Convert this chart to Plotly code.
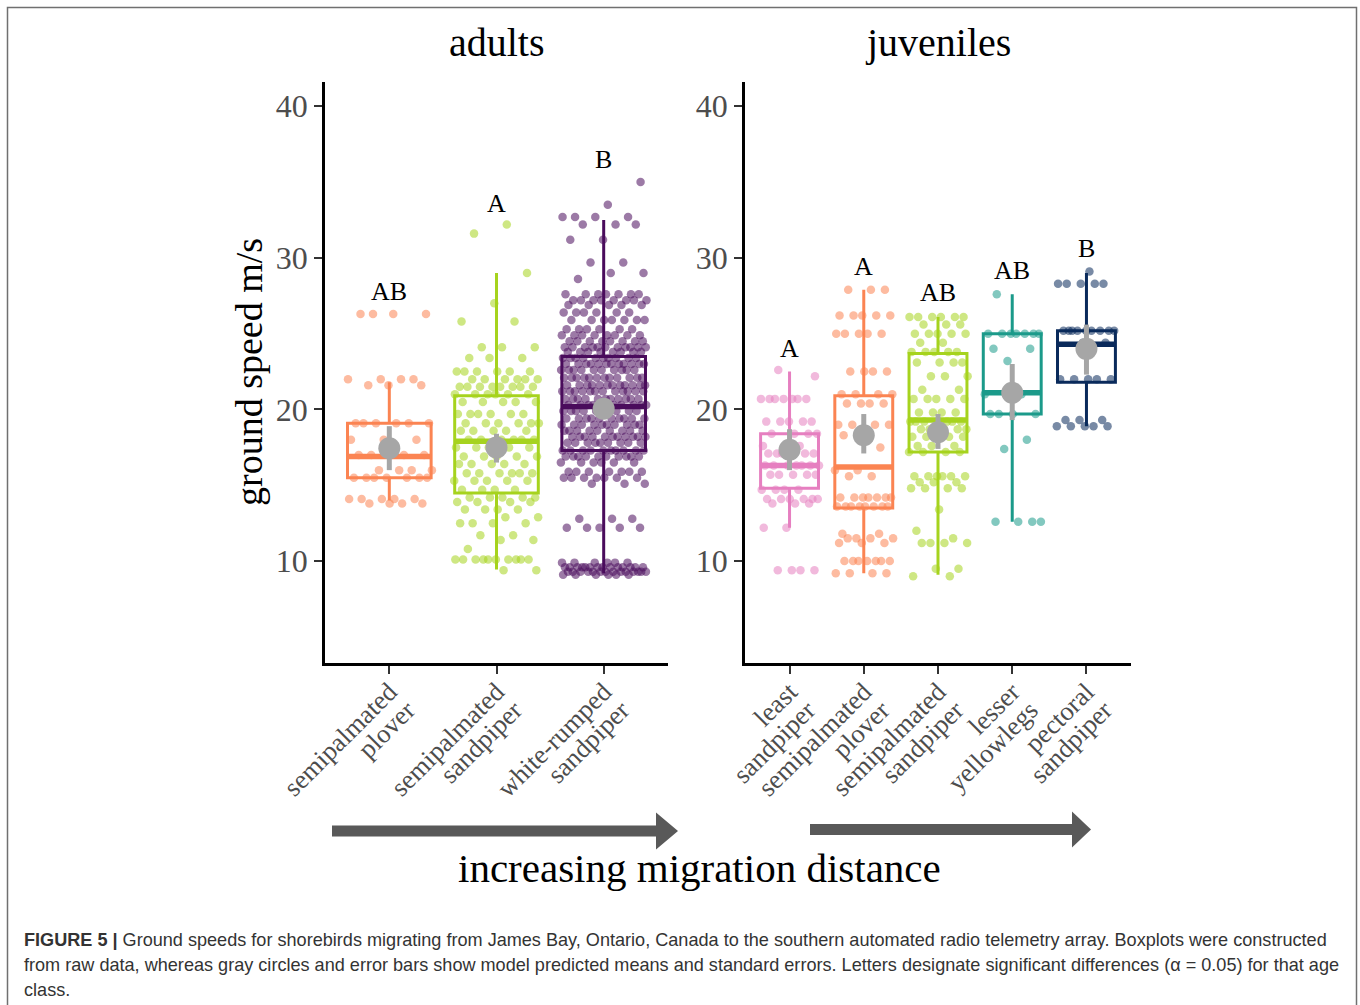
import plotly.graph_objects as go
import numpy as np

W, H = 1360, 1005

# ---------------- data ----------------
adult_line1 = ["semipalmated", "semipalmated", "white-rumped"]
adult_line2 = ["plover", "sandpiper", "sandpiper"]
juv_line1 = ["least", "semipalmated", "semipalmated", "lesser", "pectoral"]
juv_line2 = ["sandpiper", "plover", "sandpiper", "yellowlegs", "sandpiper"]

adult_colors = ["#FB8452", "#A6D31E", "#4A0C5C"]
juv_colors = ["#E67FC0", "#FB8452", "#A6D31E", "#1B9A8A", "#0A2A5B"]

# raw speeds as frequency tables (value, count)
ad_plover_vals = [26.3, 22.0, 21.6, 19.1, 18.0, 17.0, 16.0, 15.5, 14.1, 13.8]
ad_plover_cnts = [4, 4, 3, 6, 3, 5, 4, 7, 5, 4]

ad_sesa_vals = [32.2, 31.6, 29.0, 27.0, 25.8, 24.1, 23.4, 22.5, 22.0, 21.5, 21.0, 20.5, 19.7,
                19.1, 18.6, 18.0, 17.5, 16.9, 16.4, 15.8, 15.3, 14.7, 14.2, 13.9, 13.4, 12.9,
                12.5, 11.7, 11.4, 10.8, 10.1, 9.4]
ad_sesa_cnts = [1, 1, 1, 1, 2, 3, 3, 6, 6, 8, 6, 5, 6, 6, 5, 6, 5, 5, 5, 6, 5, 4, 5, 4, 4, 2,
                4, 2, 2, 1, 10, 2]

ad_wrsa_vals = [35.0, 33.5, 32.7, 32.2, 31.2, 29.7, 29.0, 28.6, 27.6, 27.2, 26.9, 26.4, 25.9,
                25.3, 24.9, 24.5, 24.1, 23.8, 23.4, 23.0, 22.6, 22.1, 21.6, 21.2, 20.7, 20.3,
                19.9, 19.4, 19.0, 18.6, 18.2, 17.8, 17.3, 16.9, 16.5, 15.9, 15.5, 15.1, 12.8,
                12.2, 9.9, 9.6, 9.3, 9.1]
ad_wrsa_cnts = [1, 1, 4, 3, 2, 2, 2, 1, 7, 8, 5, 6, 7, 6, 8, 8, 11, 8, 10, 12, 10, 12, 12, 12,
                11, 10, 10, 10, 10, 9, 11, 9, 10, 10, 6, 7, 7, 3, 3, 5, 6, 14, 14, 6]

jv_lesa_vals = [22.6, 22.2, 20.7, 19.2, 18.4, 17.6, 17.1, 16.3, 15.7, 14.7, 14.1, 13.8, 12.2, 9.4]
jv_lesa_cnts = [1, 1, 7, 5, 4, 3, 6, 7, 5, 4, 6, 3, 2, 4]

jv_sepl_vals = [27.9, 26.2, 25.0, 22.5, 21.0, 20.4, 19.0, 18.3, 17.5, 16.0, 15.6, 14.2, 13.6,
                11.8, 11.5, 11.2, 10.0, 9.2]
jv_sepl_cnts = [3, 5, 5, 4, 4, 4, 4, 2, 1, 2, 2, 7, 8, 2, 4, 3, 7, 4]

jv_sesa_vals = [26.1, 25.6, 25.0, 24.4, 23.8, 23.1, 22.2, 21.3, 20.7, 19.8, 19.2, 18.7, 18.2,
                17.6, 17.2, 15.6, 15.2, 14.8, 13.4, 12.0, 11.5, 11.2, 9.5, 9.0]
jv_sesa_cnts = [6, 3, 5, 2, 5, 4, 3, 2, 5, 4, 7, 5, 6, 3, 4, 6, 3, 4, 1, 1, 1, 4, 2, 2]

jv_leye_vals = [27.6, 25.0, 24.0, 23.2, 21.0, 19.7, 18.0, 17.4, 12.6]
jv_leye_cnts = [1, 7, 2, 1, 2, 4, 1, 1, 4]

jv_pesa_vals = [29.1, 28.3, 25.2, 24.4, 22.0, 19.3, 18.9]
jv_pesa_cnts = [1, 5, 9, 2, 5, 3, 5]

# boxplot statistics
ad_q1 = [15.5, 14.5, 17.3]
ad_med = [16.9, 17.9, 20.2]
ad_q3 = [19.1, 20.9, 23.5]
ad_lo = [14.0, 9.45, 9.2]
ad_hi = [21.8, 29.0, 32.5]

jv_q1 = [14.8, 13.5, 17.2, 19.7, 21.8]
jv_med = [16.3, 16.2, 19.3, 21.1, 24.3]
jv_q3 = [18.4, 20.9, 23.7, 25.0, 25.2]
jv_lo = [12.2, 9.2, 9.1, 12.6, 18.9]
jv_hi = [22.5, 27.9, 26.1, 27.6, 29.0]

# model predicted means and standard errors
ad_mean = [17.45, 17.5, 20.05]
ad_se_lo = [16.0, 16.5, 19.5]
ad_se_hi = [18.9, 18.4, 20.6]

jv_mean = [17.35, 18.3, 18.5, 21.1, 24.0]
jv_se_lo = [16.0, 17.1, 17.4, 19.3, 22.3]
jv_se_hi = [18.7, 19.7, 19.7, 23.0, 25.6]

# significance letters
ad_letters = ["AB", "A", "B"]
ad_letter_y = [27.8, 33.6, 36.5]
jv_letters = ["A", "A", "AB", "AB", "B"]
jv_letter_y = [24.0, 29.4, 27.7, 29.2, 30.65]

y_ticks = [10, 20, 30, 40]

# ---------------- figure ----------------
SERIF = "Liberation Serif, Times New Roman, serif"
SANS = "Liberation Sans, Arial, sans-serif"
GRAY_TXT = "#4D4D4D"
MEAN_GRAY = "#A6A6A6"
BOX_W = 0.78
JIT = 0.4


def px(x):
    return x / W


def py(y):
    return 1 - y / H


fig = go.Figure()


def add_panel(xa, ya, xa_lab2, val_tables, colors, q1, med, q3, lo, hi, mean, se_lo, se_hi):
    n = len(colors)
    cats = list(range(1, n + 1))
    # jittered raw points
    for i, (vals, cnts) in enumerate(val_tables):
        ys = np.repeat(np.array(vals, float), cnts)
        k = np.arange(len(ys))
        offs = ((k * 0.6180339887 + 0.31 * (i + 1)) % 1.0 - 0.5) * 2 * JIT
        fig.add_trace(go.Scatter(
            x=cats[i] + offs, y=ys, mode="markers", xaxis=xa, yaxis=ya,
            marker=dict(color=colors[i], size=8.5, opacity=0.55, line=dict(width=0)),
            hoverinfo="skip", showlegend=False))
    # boxes
    for i in range(n):
        fig.add_trace(go.Box(
            x=[cats[i]], q1=[q1[i]], median=[med[i]], q3=[q3[i]],
            lowerfence=[lo[i]], upperfence=[hi[i]], width=BOX_W,
            xaxis=xa, yaxis=ya, boxpoints=False, whiskerwidth=0,
            line=dict(color=colors[i], width=3), fillcolor="rgba(0,0,0,0)",
            showlegend=False, hoverinfo="skip"))
        fig.add_trace(go.Scatter(
            x=[cats[i] - BOX_W / 2, cats[i] + BOX_W / 2], y=[med[i], med[i]],
            mode="lines", xaxis=xa, yaxis=ya,
            line=dict(color=colors[i], width=5.5), showlegend=False, hoverinfo="skip"))
    # means +- SE
    m = np.array(mean)
    fig.add_trace(go.Scatter(
        x=cats, y=m, mode="markers", xaxis=xa, yaxis=ya,
        marker=dict(color=MEAN_GRAY, size=22, line=dict(width=0)),
        error_y=dict(type="data", symmetric=False, array=np.array(se_hi) - m,
                     arrayminus=m - np.array(se_lo), thickness=5, width=0, color=MEAN_GRAY),
        showlegend=False, hoverinfo="skip"))
    # invisible trace so the second-line label axis gets drawn
    fig.add_trace(go.Scatter(
        x=cats, y=m, mode="markers", xaxis=xa_lab2, yaxis=ya,
        marker=dict(opacity=0, size=1), showlegend=False, hoverinfo="skip"))


add_panel("x", "y", "x3",
          [(ad_plover_vals, ad_plover_cnts), (ad_sesa_vals, ad_sesa_cnts), (ad_wrsa_vals, ad_wrsa_cnts)],
          adult_colors, ad_q1, ad_med, ad_q3, ad_lo, ad_hi, ad_mean, ad_se_lo, ad_se_hi)
add_panel("x2", "y2", "x4",
          [(jv_lesa_vals, jv_lesa_cnts), (jv_sepl_vals, jv_sepl_cnts), (jv_sesa_vals, jv_sesa_cnts),
           (jv_leye_vals, jv_leye_cnts), (jv_pesa_vals, jv_pesa_cnts)],
          juv_colors, jv_q1, jv_med, jv_q3, jv_lo, jv_hi, jv_mean, jv_se_lo, jv_se_hi)

ann = []
for i, (t, yv) in enumerate(zip(ad_letters, ad_letter_y)):
    ann.append(dict(x=i + 1, y=yv, xref="x", yref="y", text=t, showarrow=False,
                    font=dict(family=SERIF, size=26, color="black"), xanchor="center", yanchor="middle"))
for i, (t, yv) in enumerate(zip(jv_letters, jv_letter_y)):
    ann.append(dict(x=i + 1, y=yv, xref="x2", yref="y2", text=t, showarrow=False,
                    font=dict(family=SERIF, size=26, color="black"), xanchor="center", yanchor="middle"))

# panel titles
ann.append(dict(x=px(497), y=py(43), xref="paper", yref="paper", text="adults", showarrow=False,
                font=dict(family=SERIF, size=40, color="black"), xanchor="center", yanchor="middle"))
ann.append(dict(x=px(938), y=py(43), xref="paper", yref="paper", text="juveniles", showarrow=False,
                font=dict(family=SERIF, size=40, color="black"), xanchor="center", yanchor="middle"))
# y title
ann.append(dict(x=px(249), y=py(372), xref="paper", yref="paper", text="ground speed m/s",
                showarrow=False, textangle=-90,
                font=dict(family=SERIF, size=38, color="black"), xanchor="center", yanchor="middle"))
# bottom label
ann.append(dict(x=px(700), y=py(868), xref="paper", yref="paper", text="increasing migration distance",
                showarrow=False, font=dict(family=SERIF, size=41, color="black"),
                xanchor="center", yanchor="middle"))
# caption
cap_lines = [
    "<b>FIGURE 5 |</b> Ground speeds for shorebirds migrating from James Bay, Ontario, Canada to the southern automated radio telemetry array. Boxplots were constructed",
    "from raw data, whereas gray circles and error bars show model predicted means and standard errors. Letters designate significant differences (α = 0.05) for that age",
    "class.",
]
for j, line in enumerate(cap_lines):
    ann.append(dict(x=px(22), y=py(940 + 25 * j), xref="paper", yref="paper", text=line,
                    showarrow=False, font=dict(family=SANS, size=18.1, color="#333333"),
                    xanchor="left", yanchor="middle"))

ARW = "#595959"
shapes = [
    # frame
    dict(type="rect", xref="paper", yref="paper", x0=px(7.5), x1=px(1356.5), y0=py(1012), y1=py(7.5),
         line=dict(color="#707070", width=1.5), fillcolor="rgba(0,0,0,0)", layer="below"),
    # left arrow
    dict(type="rect", xref="paper", yref="paper", x0=px(332), x1=px(659), y0=py(836.5), y1=py(825.5),
         line=dict(width=0), fillcolor=ARW),
    dict(type="path", xref="paper", yref="paper",
         path=f"M {px(656)},{py(812.5)} L {px(678)},{py(831)} L {px(656)},{py(849.5)} Z",
         line=dict(width=0), fillcolor=ARW),
    # right arrow
    dict(type="rect", xref="paper", yref="paper", x0=px(810), x1=px(1074), y0=py(835), y1=py(824),
         line=dict(width=0), fillcolor=ARW),
    dict(type="path", xref="paper", yref="paper",
         path=f"M {px(1072)},{py(811.5)} L {px(1091)},{py(829.5)} L {px(1072)},{py(847.5)} Z",
         line=dict(width=0), fillcolor=ARW),
]

yrange = [3.28, 41.6]
ax_common = dict(showline=True, linecolor="black", linewidth=2.5, ticks="outside", ticklen=8,
                 tickwidth=1.5, tickcolor="#333333", showgrid=False, zeroline=False, automargin=False)
yax = dict(ax_common, range=yrange, tickmode="array", tickvals=y_ticks,
           tickfont=dict(family=SERIF, size=32, color=GRAY_TXT), domain=[py(663), py(82)])

XFONT = dict(family=SERIF, size=26.5, color=GRAY_TXT)
L1_STANDOFF, L1_SHIFT = -8, 0
L2_DX, L2_DY = 18, 20  # offset of the second label line relative to the first


def xlab_axis(domain, rng, n, texts, anchor, main, standoff, shift, overlay=None):
    d = dict(domain=domain, range=rng, tickmode="array", tickvals=list(range(1, n + 1)),
             ticktext=texts, tickangle=-45, tickfont=XFONT, anchor=anchor,
             ticklabelstandoff=standoff, ticklabelshift=shift, automargin=False)
    if main:
        d = dict(ax_common, **d)
    else:
        d.update(showline=False, ticks="outside", ticklen=8, tickwidth=1,
                 tickcolor="rgba(0,0,0,0)", showgrid=False, zeroline=False,
                 overlaying=overlay, side="bottom")
    return d


fig.update_layout(
    width=W, height=H, autosize=False, margin=dict(l=0, r=0, t=0, b=0, pad=0),
    paper_bgcolor="white", plot_bgcolor="white", boxmode="overlay", showlegend=False,
    xaxis=xlab_axis([px(325), px(668)], [0.4, 3.6], 3, adult_line1, "y", True, L1_STANDOFF, L1_SHIFT),
    yaxis=dict(yax, anchor="x"),
    xaxis2=xlab_axis([px(745), px(1131)], [0.4, 5.6], 5, juv_line1, "y2", True, L1_STANDOFF, L1_SHIFT),
    yaxis2=dict(yax, anchor="x2"),
    xaxis3=xlab_axis([px(325), px(668)], [0.4, 3.6], 3, adult_line2, "y", False,
                     L1_STANDOFF + L2_DY, L1_SHIFT + L2_DX, overlay="x"),
    xaxis4=xlab_axis([px(745), px(1131)], [0.4, 5.6], 5, juv_line2, "y2", False,
                     L1_STANDOFF + L2_DY, L1_SHIFT + L2_DX, overlay="x2"),
    annotations=ann, shapes=shapes,
)

fig.write_html("out.html", post_script="document.body.style.margin='0';",
               config={"displayModeBar": False})
